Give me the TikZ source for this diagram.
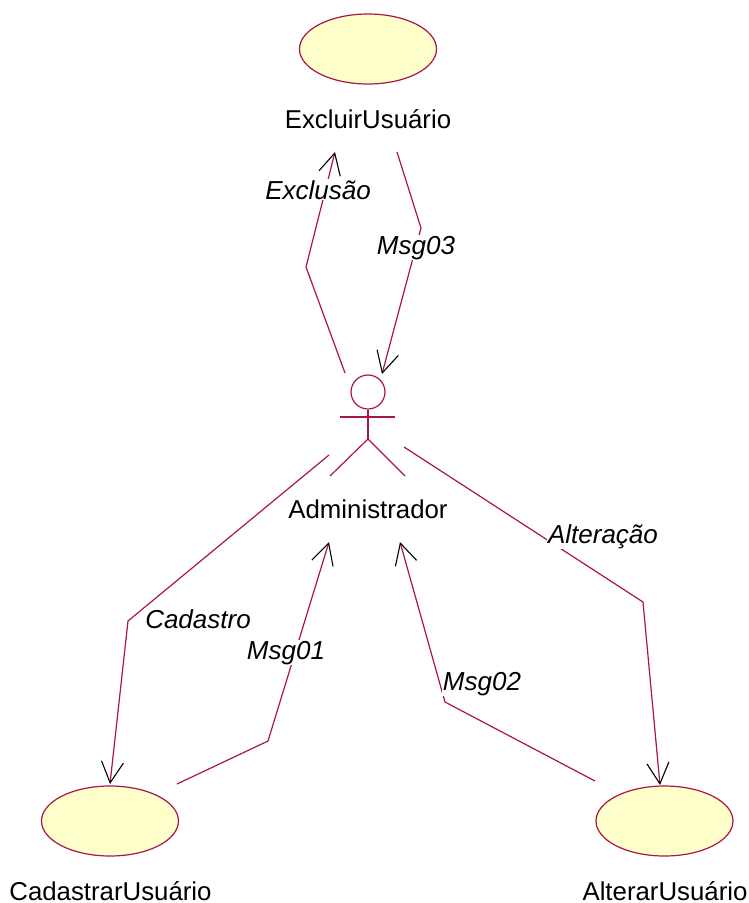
\documentclass[tikz,border=0pt]{standalone}
\usepackage{fontspec}
\setmainfont{Liberation Sans}
\usetikzlibrary{shapes.geometric,arrows.meta}
\definecolor{umlline}{RGB}{170,20,70}
\definecolor{umlfill}{RGB}{255,255,204}
\tikzset{
  x=1pt,y=-1pt,
  usecase/.style={ellipse,draw=umlline,fill=umlfill,line width=1.2pt,minimum width=137pt,minimum height=70pt,inner sep=0pt},
  name text/.style={font=\fontsize{25.8}{28}\selectfont,text=black,inner sep=0pt,anchor=base},
  msg text/.style={font=\fontsize{26}{28}\selectfont\itshape,text=black,fill=white,inner sep=1pt,anchor=base},
  link/.style={draw=umlline,line width=1.2pt,-{Straight Barb[black,length=21pt,width=22pt,line width=1.1pt]}},
  actorline/.style={draw=umlline,line width=1.2pt}
}
\begin{document}
\begin{tikzpicture}
\useasboundingbox (0,0) rectangle (749,903);
\node[usecase] (excluir) at (368,49) {};
\node[usecase] (cadastrar) at (110,821) {};
\node[usecase] (alterar) at (664.5,821) {};
\node[name text] (excluirT) at (368,128) {ExcluirUsuário};
\node[name text] (cadastrarT) at (110.5,900.5) {CadastrarUsuário};
\node[name text] (alterarT) at (665,900.5) {AlterarUsuário};
\node[name text] (adminT) at (368,518) {Administrador};
% actor
\node[circle,draw=umlline,line width=1.2pt,minimum size=34pt,inner sep=0pt] (head) at (368,392) {};
\coordinate (armL) at (340,417);
\coordinate (armR) at (395,417);
\coordinate (hip) at (368,439);
\coordinate (legL) at (330,476);
\coordinate (legR) at (405,476);
\draw[actorline] (head.south) -- (hip);
\draw[actorline] (armL) -- (armR);
\draw[actorline] (legL) -- (hip) -- (legR);
% connector ends
\coordinate (a1) at (345,373); \coordinate (a2) at (306,267); \coordinate (a3) at (335,152);
\coordinate (b1) at (397,152); \coordinate (b2) at (421,228); \coordinate (b3) at (382,374);
\coordinate (c1) at (329,455); \coordinate (c2) at (128,621); \coordinate (c3) at (110,784);
\coordinate (d1) at (177,784); \coordinate (d2) at (268,741); \coordinate (d3) at (329,542);
\coordinate (e1) at (595,781); \coordinate (e2) at (445,702); \coordinate (e3) at (400,542);
\coordinate (f1) at (404,447); \coordinate (f2) at (643,602); \coordinate (f3) at (660,785);
\draw[link] (a1) -- (a2) -- (a3);
\draw[link] (b1) -- (b2) -- (b3);
\draw[link] (c1) -- (c2) -- (c3);
\draw[link] (d1) -- (d2) -- (d3);
\draw[link] (e1) -- (e2) -- (e3);
\draw[link] (f1) -- (f2) -- (f3);
\node[msg text] (lExcl) at (318,199) {Exclusão};
\node[msg text] (lM3) at (416,254) {Msg03};
\node[msg text] (lCad) at (198,628) {Cadastro};
\node[msg text] (lM1) at (286,659) {Msg01};
\node[msg text] (lM2) at (482,690) {Msg02};
\node[msg text] (lAlt) at (603,543) {Alteração};
\end{tikzpicture}
\end{document}
